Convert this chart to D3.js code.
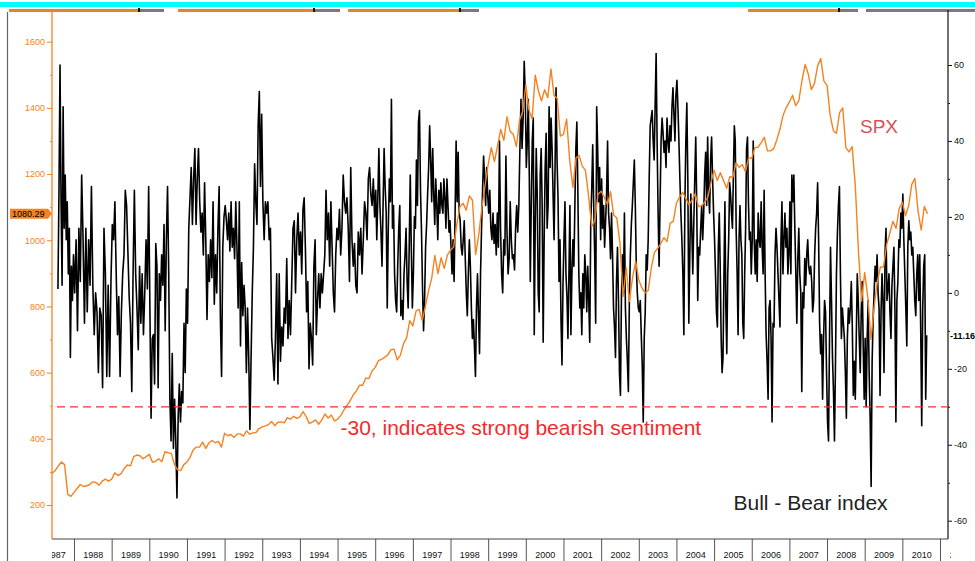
<!DOCTYPE html>
<html lang="en">
<head>
<meta charset="UTF-8">
<title>Bull - Bear index vs SPX</title>
<script src="https://cdn.jsdelivr.net/npm/d3@7"></script>
<style>
    body { margin: 0; background: white; }
    svg { display: block; font-family: "Liberation Sans", Arial, sans-serif; }
    .axis text { font-size: 9px; }
</style>
</head>
<body>
<script>
/*------------------------- data -------------------------*/
// year boundaries shown on the x axis
const yearTicks = d3.range(1987, 2012);
const yearLabels = d3.range(1987, 2012);

// Bull - Bear index (weekly), one list per calendar year
const bbFrom = 1987.56, bbTo = 2010.66;
const bbYears = d3.range(1987, 2011);
const bullBearByYear = [
    [1, 27, 60, 24, 2, 49, 17, 31, 14, 24, 5, 17, -17, 7, -2, 10],
    [0, 14, -10, 17, 3, 31, 14, -8, 17, -5, 14, 2, 28, 2, -11, 0, -5, -21, -4, -6, -25, 17, 5, -22, 2, -22, 3],
    [18, 14, 24, 5, -11, -1, -22, -5, 5, 10, 27, 23, 11, -1, -8, -26, 5, 27, 5, -4, -15, 7, -8, 5, -11, 0, 14, 1, 28],
    [-4, -33, -12, -11, -24, 13, 7, -25, 5, -2, 10, 2, 18, -10, 14, 28, 5, -28, -39, -16, -41, -28, -39, -54, -33, -24, -34, -26, -29, -8, -21, 1],
    [-8, 17, 25, 33, 18, 30, 38, 18, 30, 38, 24, 16, 21, 10, 29, 14, -7, 10, 3, 14, 4, 24, -3, 10, 0, 17, 28, -6, -22, 12, 20],
    [23, 19, 14, 21, 11, 24, 12, 17, 9, 24, 12, -4, 24, -14, 8, -6, 2, -4, -21, -4, -17, -36, -17, 0, 12, 34, 24, 18, 44, 53, 28, 47],
    [24, 14, 24, 21, 24, 14, 17, -12, -17, -23, -12, 5, -24, 5, -18, -9, -14, -4, -8, 9, -12, -2, -11, 3, 17, 19, 0, 14, 21, 10],
    [16, 5, 22, 25, 12, -5, 3, -20, -8, -12, -19, 7, 14, -11, -2, 5, -4, 5, 0, 5, 10, 27, 14, 21, 7, 24, 12, 0, -5, 10, 17],
    [14, 22, 10, 17, 31, 24, 21, 25, 17, 3, 33, 14, 7, 13, 2, 0, 16, 10, 17, 5, 14, 24, 21, 14, 30, 33, 26, 23, 30, 20],
    [27, 14, 25, 38, 23, 16, 7, 23, 38, 28, 21, -4, 17, 30, 24, 51, 17, 23, 5, -2, -5, 7, 17, 23, -6, -2, -7, 5, 10, 17, 3, -4, 12, 31, 12, -4],
    [5, 20, 17, 35, 23, 45, 48, 27, 16, 1, -10, -2, 12, 18, 26, 33, 44, 35, 24, 38, 26, 18, 30, 23, 14, 27, 21, 29, 23, 21, 30, 25, 17, 30, 23, 16, 19],
    [12, 5, 14, 3, 21, 40, 24, 37, 21, 19, 12, 10, 14, 19, 9, 0, -6, 5, 14, 7, -4, -12, -7, -14, -22, -4, 5, -6, -16, 5, 17, 27, 36, 30, 23, 33, 26],
    [21, 27, 17, 14, 21, 13, 18, 10, 21, 12, 40, 17, 5, 0, 14, 10, 36, 16, 5, 9, 24, 14, 9, 10, 6, 17, 23, 16, 23, 38, 51, 38, 46, 61, 52],
    [33, 40, 51, 31, 3, 23, 40, 46, -11, 18, 38, 26, 0, -5, 31, 38, 23, -13, 14, 33, 42, 17, 23, 49, 33, 46, 38, 26, 14, 33, 54, 35, 25, 3, 14, -7, -19, 2],
    [14, 24, 5, -1, -12, 5, 23, -11, 5, 14, 7, 23, 38, 45, 27, 5, -4, 0, -11, 5, -4, 10, 5, -5, 7, -2, -13, 18, 27, 39, 23, 10, -8, 49, 38, 24, 33, 14],
    [30, 17, 23, 12, 19, 26, 40, 21, 17, 9, 21, 10, -4, -9, -17, 3, 12, -2, -21, -27, -1, 10, 0, 21, -4, -12, -18, -26, -2, 10, 18, 23, 29, 35, 23, 7, 0, -4],
    [-5, -2, -11, -19, -34, -12, -5, 10, 6, 14, 30, 44, 46, 48, 40, 35, 49, 63, 40, 21, 7, 24, 40, 46, 42, 37, 40, 33, 46, 40, 37, 44, 40, 49, 54, 47, 40, 52],
    [56, 49, 40, 30, 21, 14, 5, -11, 23, 40, 50, 30, -8, 10, 26, 17, 5, 18, 30, 41, 23, -2, 12, 10, 17, 23, 14, 21, 31, 37, 23, 41, 26, 21, 35, 41, 30, 21],
    [14, 5, -5, -9, 12, 21, 7, -12, -21, -17, 5, 24, -4, -16, 5, 14, 29, 26, 21, 17, 31, 44, 40, 16, 5, -11, 14, 23, 14, 10, -8, -12, 5, 17, 38, 41, 24, 14, 16, 5],
    [14, 40, 14, 5, 14, 3, 21, 14, 12, 24, 12, 5, 27, 5, -11, -18, -28, -4, -2, -12, -34, -8, -9, 10, 17, 12, 5, -2, -9, 14, 24, 5, 14, 21, 12, 17, 5, 10],
    [24, 5, 31, 24, 31, 17, 5, -8, 9, 17, 5, 0, -26, 0, -4, 9, 2, 10, 14, 7, 5, 7, 3, -5, -2, 10, 17, 21, 29, 14, -8, -16, -11, -28, -12, -2, -5, -21],
    [-34, -39, -12, 12, -2, -17, -26, -39, -19, 5, 16, 23, 28, 5, -12, -4, -8, -12, -21, -33, -12, -4, -8, -4, 3, -9, -27, -18, -28, -12, 5, -2, -12, -21, -5, 3, -14, -28],
    [-12, -30, -12, -2, -21, -33, -51, -18, -7, 0, 7, 3, 10, 0, -4, -27, -5, 5, -2, -21, 10, 17, -2, 1, 5, -5, -12, 2, 7, 12, -4, -34, -2, 3, 14, 12, 21, 17],
    [26, 14, 5, -4, -14, 12, 19, 14, 16, 10, 12, 5, -2, -6, 5, 10, -2, 10, -10, -35, -4, 7, 10, -28, -11.16]
];

// SPX, level at the start of each month, June 1987 .. September 2010
const spxFirstMonth = 1987 + 5 / 12;
const spx = [
    295, 304, 318, 330, 322, 232, 226,
    238, 250, 262, 256, 258, 262, 270, 268, 260, 272, 278, 272,
    278, 297, 289, 295, 310, 321, 318, 346, 351, 349, 340, 346,
    353, 329, 332, 340, 331, 361, 358, 356, 323, 306, 304, 322,
    330, 344, 367, 375, 375, 390, 371, 388, 395, 388, 392, 375,
    417, 409, 413, 404, 415, 415, 408, 424, 414, 418, 419, 431,
    436, 439, 443, 452, 440, 450, 451, 448, 464, 459, 468, 462,
    466, 482, 467, 446, 451, 457, 444, 458, 475, 463, 472, 454,
    459, 470, 487, 501, 515, 533, 545, 562, 562, 584, 582, 605,
    616, 636, 640, 646, 654, 669, 671, 639, 652, 687, 705, 757,
    741, 786, 791, 757, 801, 848, 885, 954, 899, 947, 915, 955,
    970, 980, 1049, 1102, 1112, 1091, 1134, 1121, 957, 1017, 1099, 1164,
    1229, 1280, 1238, 1286, 1335, 1302, 1373, 1329, 1320, 1283, 1363, 1389,
    1469, 1394, 1366, 1499, 1452, 1421, 1455, 1431, 1518, 1437, 1429, 1315,
    1320, 1366, 1240, 1160, 1249, 1256, 1224, 1211, 1134, 1041, 1060, 1139,
    1148, 1130, 1107, 1147, 1076, 1067, 990, 830, 916, 815, 886, 936,
    880, 856, 841, 848, 917, 964, 975, 990, 1008, 996, 1051, 1058,
    1112, 1131, 1145, 1126, 1107, 1121, 1141, 1102, 1104, 1115, 1130, 1174,
    1212, 1181, 1204, 1181, 1157, 1192, 1191, 1234, 1220, 1229, 1207, 1249,
    1248, 1280, 1281, 1295, 1311, 1270, 1270, 1277, 1304, 1336, 1378, 1401,
    1418, 1438, 1407, 1421, 1482, 1531, 1503, 1455, 1474, 1527, 1549, 1481,
    1468, 1378, 1331, 1323, 1386, 1400, 1280, 1267, 1283, 1166, 969, 816,
    903, 826, 700, 798, 873, 919, 919, 987, 1021, 1057, 1036, 1096,
    1115, 1074, 1104, 1169, 1187, 1089, 1031, 1102, 1080.29
];

const spxTicks = [200, 400, 600, 800, 1000, 1200, 1400, 1600];
const spxMinor = [300, 500, 700, 900, 1100, 1300, 1500];
const bbTicks = [-60, -40, -20, 0, 20, 40, 60];
const bbMinor = [-50, -30, -10, 10, 30, 50];
const bearishLevel = -30;

/*------------------------- layout -------------------------*/
const W = 975, H = 561;
const plot = { left: 52, right: 948, top: 10, bottom: 539 };
const orange = "#f58220";

const x = d3.scaleLinear().domain([1988, 2011]).range([74, 940]);
const yL = d3.scaleLinear().domain([200, 1600]).range([505, 41.7]);
const yR = d3.scaleLinear().domain([-60, 60]).range([520.7, 65]);

// flatten the year lists into dated points
const bbPoints = [];
bullBearByYear.forEach((vals, i) => {
    const t0 = Math.max(bbYears[i], bbFrom), t1 = Math.min(bbYears[i] + 1, bbTo);
    vals.forEach((v, j) => bbPoints.push({ t: t0 + (j + 0.5) * (t1 - t0) / vals.length, v: v }));
});
const spxPoints = spx.map((v, i) => ({ t: spxFirstMonth + i / 12, v: v }));

const svg = d3.select("body").append("svg").attr("width", W).attr("height", H);

// top toolbar strip
svg.append("rect").attr("x", 0).attr("y", 2).attr("width", W).attr("height", 5).attr("fill", "#00ffff");
const strips = [[9, 138, 164], [178, 313, 340], [348, 459, 479], [748, 838, 858], [866, 866, 975]];
strips.forEach(s => {
    svg.append("rect").attr("x", s[0]).attr("y", 9).attr("width", s[1] - s[0]).attr("height", 3).attr("fill", "#d9892b");
    svg.append("rect").attr("x", s[1]).attr("y", 9).attr("width", s[2] - s[1]).attr("height", 3).attr("fill", "#7a7a7a");
    if (s[1] > s[0]) svg.append("rect").attr("x", s[1]).attr("y", 8).attr("width", 2).attr("height", 4).attr("fill", "#111");
});
// outer frame line
svg.append("line").attr("x1", 7.5).attr("x2", 7.5).attr("y1", 12).attr("y2", H).attr("stroke", "#666").attr("stroke-width", 1.2);

svg.append("defs").append("clipPath").attr("id", "plotclip")
    .append("rect").attr("x", plot.left).attr("y", plot.top)
    .attr("width", plot.right - plot.left).attr("height", plot.bottom - plot.top);
svg.append("defs").append("clipPath").attr("id", "xclip")
    .append("rect").attr("x", plot.left).attr("y", plot.bottom)
    .attr("width", plot.right + 3 - plot.left).attr("height", H - plot.bottom);

/*------------------------- axes -------------------------*/
// x axis: separators at year boundaries, labels in the middle of each year
const xAxisG = svg.append("g").attr("clip-path", "url(#xclip)");
xAxisG.append("g").attr("class", "axis")
    .attr("transform", `translate(0,${plot.bottom})`)
    .call(d3.axisBottom(x).tickValues(yearTicks).tickSize(22).tickFormat(""))
    .call(g => g.select(".domain").remove())
    .call(g => g.selectAll("line").attr("stroke", "#555"));
xAxisG.append("g").attr("class", "axis")
    .attr("transform", `translate(0,${plot.bottom})`)
    .call(d3.axisBottom(x).tickValues(yearLabels.map(d => d + 0.5)).tickSize(0).tickPadding(13).tickFormat(d => Math.floor(d)))
    .call(g => g.select(".domain").remove())
    .call(g => g.selectAll("text").attr("fill", "#111"));
svg.append("line").attr("x1", plot.left).attr("x2", plot.right).attr("y1", plot.bottom).attr("y2", plot.bottom)
    .attr("stroke", "#444").attr("stroke-width", 1.2);

// left (SPX) axis
svg.append("g").attr("class", "axis").attr("transform", `translate(${plot.left},0)`)
    .call(d3.axisLeft(yL).tickValues(spxTicks).tickSize(5).tickPadding(2).tickFormat(d3.format("d")))
    .call(g => g.select(".domain").remove())
    .call(g => g.selectAll("line").attr("stroke", orange))
    .call(g => g.selectAll("text").attr("fill", orange));
svg.append("g").attr("transform", `translate(${plot.left},0)`)
    .call(d3.axisLeft(yL).tickValues(spxMinor).tickSize(2).tickFormat(""))
    .call(g => g.select(".domain").remove())
    .call(g => g.selectAll("line").attr("stroke", orange));
svg.append("line").attr("x1", plot.left).attr("x2", plot.left).attr("y1", plot.top).attr("y2", plot.bottom)
    .attr("stroke", orange).attr("stroke-width", 1.3);

// right (Bull - Bear) axis
svg.append("g").attr("class", "axis").attr("transform", `translate(${plot.right},0)`)
    .call(d3.axisRight(yR).tickValues(bbTicks).tickSize(4).tickPadding(2).tickFormat(d => String(d)))
    .call(g => g.select(".domain").remove())
    .call(g => g.selectAll("line").attr("stroke", "#111"))
    .call(g => g.selectAll("text").attr("fill", "#111"));
svg.append("g").attr("transform", `translate(${plot.right},0)`)
    .call(d3.axisRight(yR).tickValues(bbMinor).tickSize(2).tickFormat(""))
    .call(g => g.select(".domain").remove())
    .call(g => g.selectAll("line").attr("stroke", "#111"));
svg.append("line").attr("x1", plot.right).attr("x2", plot.right).attr("y1", plot.top).attr("y2", plot.bottom)
    .attr("stroke", "#222").attr("stroke-width", 1.3);

/*------------------------- series -------------------------*/
const plotG = svg.append("g").attr("clip-path", "url(#plotclip)");

plotG.append("path").datum(bbPoints)
    .attr("fill", "none").attr("stroke", "#000").attr("stroke-width", 1.6).attr("stroke-linejoin", "round")
    .attr("d", d3.line().x(d => x(d.t)).y(d => yR(d.v)));

plotG.append("path").datum(spxPoints)
    .attr("fill", "none").attr("stroke", orange).attr("stroke-width", 1.4).attr("stroke-linejoin", "round")
    .attr("d", d3.line().x(d => x(d.t)).y(d => yL(d.v)));

plotG.append("line")
    .attr("x1", 57).attr("x2", plot.right).attr("y1", yR(bearishLevel)).attr("y2", yR(bearishLevel))
    .attr("stroke", "#f03030").attr("stroke-width", 1.3).attr("stroke-dasharray", "8,5");

/*------------------------- labels -------------------------*/
svg.append("text").attr("x", 340.5).attr("y", 435).attr("fill", "#f52a2a")
    .attr("font-size", 21).text("-30, indicates strong bearish sentiment");
svg.append("text").attr("x", 860).attr("y", 133).attr("fill", "#d8505a")
    .attr("font-size", 19).text("SPX");
svg.append("text").attr("x", 733.5).attr("y", 510).attr("fill", "#222")
    .attr("font-size", 21).text("Bull - Bear index");

// last value tags
const lastSpx = spx[spx.length - 1];
const lastBb = bullBearByYear[bullBearByYear.length - 1].slice(-1)[0];
svg.append("path")
    .attr("d", `M10,${yL(lastSpx) - 5}H48L52,${yL(lastSpx)}L48,${yL(lastSpx) + 5}H10Z`)
    .attr("fill", orange);
svg.append("text").attr("x", 12).attr("y", yL(lastSpx) + 3.5).attr("font-size", 9).attr("fill", "#000")
    .text(d3.format(".2f")(lastSpx));
svg.append("text").attr("x", 950).attr("y", yR(lastBb) + 3.5).attr("font-size", 9).attr("font-weight", "bold")
    .attr("fill", "#000").text(String(lastBb));
</script>
</body>
</html>
